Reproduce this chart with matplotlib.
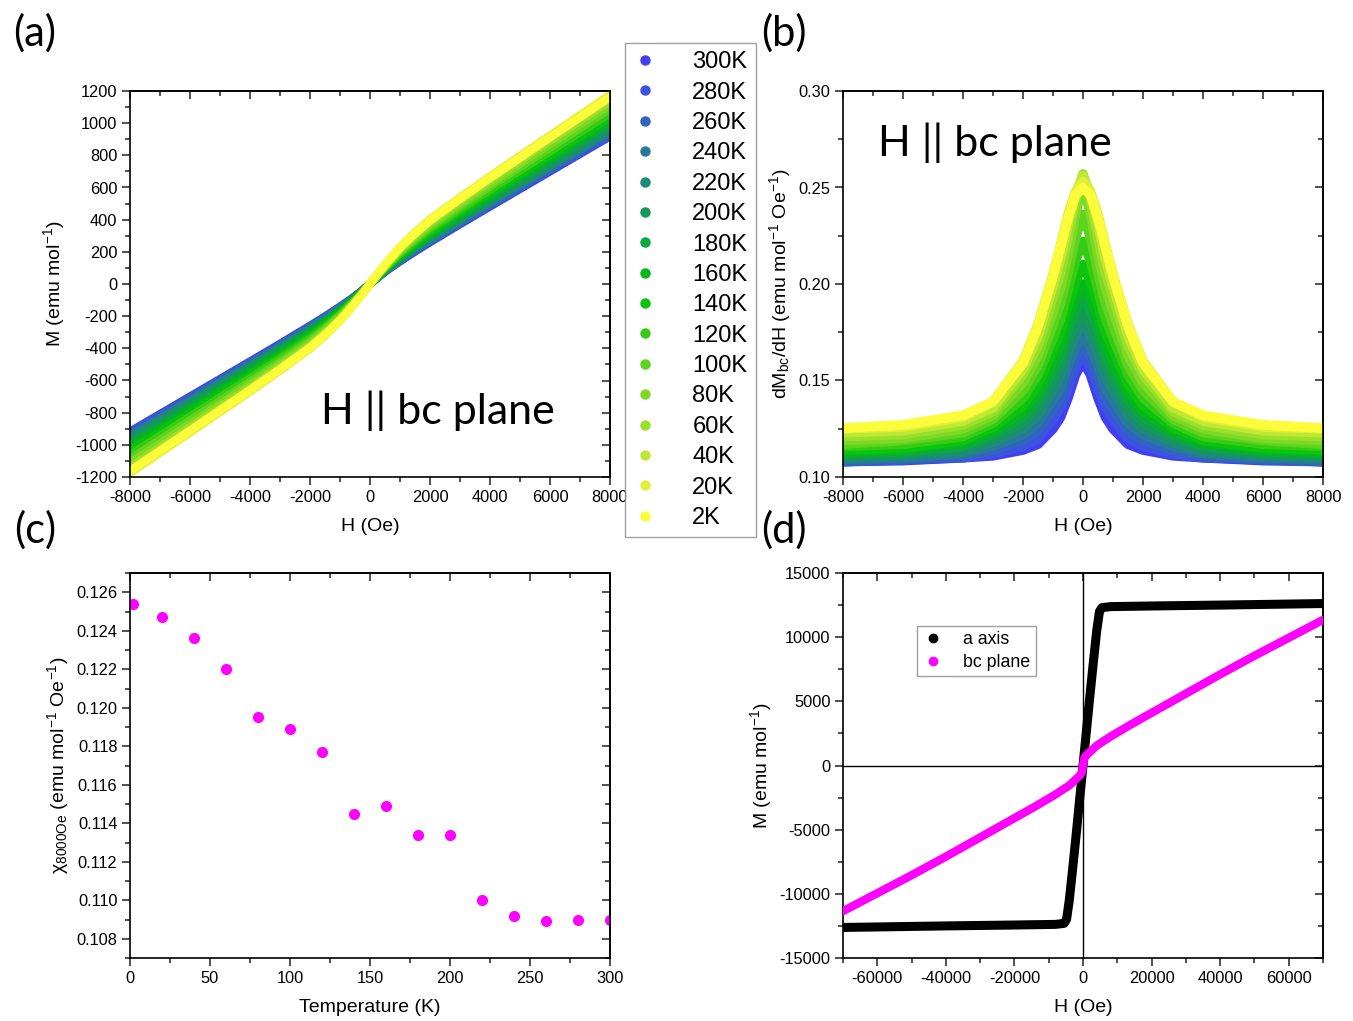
import numpy as np
import matplotlib
matplotlib.use("Agg")
import matplotlib.pyplot as plt
from matplotlib.ticker import MultipleLocator, NullFormatter
from matplotlib.lines import Line2D

plt.rcParams['font.family'] = ['Liberation Sans', 'DejaVu Sans']
plt.rcParams['mathtext.fontset'] = 'custom'
plt.rcParams['mathtext.rm'] = 'Liberation Sans'
plt.rcParams['mathtext.it'] = 'Liberation Sans:italic'
plt.rcParams['axes.linewidth'] = 1.2
plt.rcParams['axes.unicode_minus'] = False

# temperatures (K) and their colours, as in the legend
temps = [300, 280, 260, 240, 220, 200, 180, 160, 140, 120, 100, 80, 60, 40, 20, 2]
colors = ['#4040f0', '#3c52e0', '#2f64c0', '#27799c', '#1d8a7a', '#13995a',
          '#0aa83e', '#04b81c', '#0cc40c', '#36cc16', '#5cd41e', '#7ed826',
          '#9ae02a', '#bfe832', '#e0f03a', '#fcfc3a']

# (a) M(H) for H || bc, positive field side (curves are odd in H)
h_m = [0, 300, 600, 1000, 1500, 2000, 3000, 4000, 6000, 8000]
m_bc = [
    [0, 47, 90, 141, 202, 260, 372, 482, 700, 918],
    [0, 48, 92, 144, 205, 264, 377, 487, 706, 925],
    [0, 49, 94, 147, 210, 269, 383, 494, 715, 935],
    [0, 50, 96, 150, 214, 275, 389, 502, 723, 945],
    [0, 51, 99, 155, 221, 283, 399, 512, 736, 960],
    [0, 53, 103, 162, 230, 294, 412, 527, 753, 979],
    [0, 55, 107, 169, 239, 305, 424, 541, 770, 999],
    [0, 57, 111, 175, 248, 315, 437, 555, 787, 1019],
    [0, 59, 115, 182, 257, 326, 449, 569, 804, 1038],
    [0, 62, 120, 191, 269, 340, 465, 587, 825, 1063],
    [0, 65, 125, 200, 281, 355, 483, 607, 848, 1090],
    [0, 67, 130, 208, 292, 368, 498, 624, 870, 1114],
    [0, 70, 135, 217, 304, 382, 514, 642, 891, 1139],
    [0, 72, 139, 223, 313, 392, 527, 656, 908, 1158],
    [0, 73, 143, 229, 321, 402, 538, 669, 923, 1175],
    [0, 72, 140, 225, 315, 395, 530, 660, 912, 1163],
]

# (b) dM/dH, positive field side (curves are even in H)
h_dm = [0, 250, 500, 750, 1000, 1500, 2000, 3000, 4000, 6000, 8000]
dm_bc = [
    [0.160, 0.153, 0.141, 0.131, 0.125, 0.117, 0.114, 0.111, 0.110, 0.1085, 0.108],
    [0.164, 0.157, 0.146, 0.136, 0.130, 0.120, 0.116, 0.112, 0.110, 0.109, 0.108],
    [0.169, 0.162, 0.152, 0.141, 0.135, 0.124, 0.119, 0.114, 0.111, 0.109, 0.108],
    [0.174, 0.167, 0.158, 0.146, 0.140, 0.128, 0.122, 0.116, 0.112, 0.110, 0.109],
    [0.180, 0.173, 0.164, 0.152, 0.145, 0.132, 0.125, 0.118, 0.113, 0.111, 0.110],
    [0.186, 0.179, 0.170, 0.158, 0.150, 0.136, 0.128, 0.120, 0.115, 0.112, 0.111],
    [0.193, 0.186, 0.176, 0.163, 0.155, 0.140, 0.131, 0.122, 0.116, 0.113, 0.112],
    [0.200, 0.193, 0.182, 0.169, 0.160, 0.144, 0.134, 0.124, 0.118, 0.114, 0.113],
    [0.210, 0.201, 0.189, 0.175, 0.166, 0.148, 0.137, 0.126, 0.119, 0.115, 0.114],
    [0.222, 0.212, 0.197, 0.182, 0.172, 0.153, 0.141, 0.128, 0.121, 0.117, 0.116],
    [0.236, 0.224, 0.206, 0.190, 0.179, 0.158, 0.145, 0.130, 0.123, 0.119, 0.117],
    [0.252, 0.236, 0.215, 0.198, 0.186, 0.163, 0.149, 0.132, 0.125, 0.120, 0.119],
    [0.257, 0.243, 0.224, 0.206, 0.193, 0.168, 0.153, 0.134, 0.127, 0.122, 0.121],
    [0.256, 0.247, 0.231, 0.213, 0.199, 0.173, 0.156, 0.136, 0.129, 0.124, 0.123],
    [0.253, 0.248, 0.236, 0.220, 0.205, 0.179, 0.160, 0.139, 0.131, 0.126, 0.125],
    [0.250, 0.246, 0.234, 0.219, 0.204, 0.178, 0.159, 0.139, 0.132, 0.127, 0.1254],
]

# (c) susceptibility at 8000 Oe
t_chi = [2, 20, 40, 60, 80, 100, 120, 140, 160, 180, 200, 220, 240, 260, 280, 300]
chi_8000 = [0.1254, 0.1247, 0.1236, 0.1220, 0.1195, 0.1189, 0.1177, 0.1145,
            0.1149, 0.1134, 0.1134, 0.1100, 0.1092, 0.1089, 0.1090, 0.1090]

# (d) M(H) up to 7 T, positive side (odd in H)
h_a = [0, 1000, 2000, 3000, 4000, 4800, 5500, 8000, 20000, 40000, 70000]
m_a = [0, 2700, 5400, 8000, 10500, 12000, 12300, 12380, 12430, 12500, 12620]
h_bc = [0, 300, 800, 2000, 4000, 8000, 14000, 20000, 30000, 40000, 50000, 60000, 70000]
m_bc_full = [0, 500, 750, 1050, 1550, 2250, 3200, 4100, 5600, 7100, 8550, 9950, 11350]


def odd(h, m):
    h = np.asarray(h, float)
    m = np.asarray(m, float)
    return np.concatenate([-h[:0:-1], h]), np.concatenate([-m[:0:-1], m])


def even(h, m):
    h = np.asarray(h, float)
    m = np.asarray(m, float)
    return np.concatenate([-h[:0:-1], h]), np.concatenate([m[:0:-1], m])


def style(ax, xmaj, xmin, ymaj, ymin):
    ax.xaxis.set_major_locator(MultipleLocator(xmaj))
    ax.xaxis.set_minor_locator(MultipleLocator(xmin))
    ax.yaxis.set_major_locator(MultipleLocator(ymaj))
    ax.yaxis.set_minor_locator(MultipleLocator(ymin))
    ax.tick_params(which='both', direction='out', labelsize=11.8, width=1.1, color='#222222')
    ax.tick_params(which='major', length=5.5)
    ax.tick_params(which='minor', length=3.5)
    # top/right ticks point inwards (Origin style)
    top = ax.secondary_xaxis('top')
    right = ax.secondary_yaxis('right')
    for sec, axis in ((top, top.xaxis), (right, right.yaxis)):
        axis.set_major_locator(MultipleLocator(xmaj if sec is top else ymaj))
        axis.set_minor_locator(MultipleLocator(xmin if sec is top else ymin))
        axis.set_major_formatter(NullFormatter())
        sec.tick_params(which='both', direction='in', width=1.1, color='#222222')
        sec.tick_params(which='major', length=5.5)
        sec.tick_params(which='minor', length=3.5)


W, H = 1353, 1021
fig = plt.figure(figsize=(W / 100, H / 100), dpi=100)

ax_a = fig.add_axes([130 / W, 1 - 477 / H, 480 / W, 386 / H])
ax_b = fig.add_axes([843 / W, 1 - 477 / H, 480 / W, 386 / H])
ax_c = fig.add_axes([130 / W, 1 - 958 / H, 480 / W, 385 / H])
ax_d = fig.add_axes([843 / W, 1 - 958 / H, 480 / W, 385 / H])

# (a)
for m, c in zip(m_bc, colors):
    x, y = odd(h_m, m)
    ax_a.plot(x, y, color=c, lw=6, solid_capstyle='round', solid_joinstyle='round')
ax_a.set_xlim(-8000, 8000)
ax_a.set_ylim(-1200, 1200)
style(ax_a, 2000, 1000, 200, 100)
ax_a.set_xlabel('H (Oe)', fontsize=14, labelpad=10)
ax_a.set_ylabel('M (emu mol$^{-1}$)', fontsize=14, labelpad=6)
ax_a.text(0.642, 0.171, 'H || bc plane', transform=ax_a.transAxes, fontsize=31,
          family='Lato', ha='center', va='center')

# (b)
for d, c in zip(dm_bc, colors):
    x, y = even(h_dm, d)
    ax_b.plot(x, y, color=c, lw=7, solid_capstyle='round', solid_joinstyle='round')
ax_b.set_xlim(-8000, 8000)
ax_b.set_ylim(0.10, 0.30)
style(ax_b, 2000, 1000, 0.05, 0.025)
ax_b.set_xlabel('H (Oe)', fontsize=14, labelpad=10)
ax_b.set_ylabel(r'dM$_{\mathrm{bc}}$/dH (emu mol$^{-1}$ Oe$^{-1}$)', fontsize=14)
ax_b.text(0.317, 0.865, 'H || bc plane', transform=ax_b.transAxes, fontsize=31,
          family='Lato', ha='center', va='center')

# (c)
ax_c.plot(t_chi, chi_8000, 'o', color='#ff00ff', ms=7)
ax_c.set_xlim(0, 300)
ax_c.set_ylim(0.107, 0.127)
style(ax_c, 50, 25, 0.002, 0.001)
ax_c.yaxis.set_major_formatter(plt.FormatStrFormatter('%.3f'))
ax_c.set_xlabel('Temperature (K)', fontsize=14, labelpad=10)
ax_c.set_ylabel(r'χ$_{\mathrm{8000Oe}}$ (emu mol$^{-1}$ Oe$^{-1}$)', fontsize=14)

# (d)
ax_d.axhline(0, color='k', lw=1, zorder=1)
ax_d.axvline(0, color='k', lw=1, zorder=1)
x, y = odd(h_a, m_a)
ax_d.plot(x, y, color='k', lw=6.5, solid_capstyle='round', zorder=2)
x, y = odd(h_bc, m_bc_full)
ax_d.plot(x, y, color='#ff00ff', lw=6, solid_capstyle='round', zorder=3)
ax_d.set_xlim(-70000, 70000)
ax_d.set_ylim(-15000, 15000)
style(ax_d, 20000, 10000, 5000, 2500)
ax_d.set_xlabel('H (Oe)', fontsize=14, labelpad=10)
ax_d.set_ylabel('M (emu mol$^{-1}$)', fontsize=14)
hd = [Line2D([], [], ls='', marker='o', color='k', ms=6),
      Line2D([], [], ls='', marker='o', color='#ff00ff', ms=6)]
leg_d = ax_d.legend(hd, ['a axis', 'bc plane'], loc='upper left',
                    bbox_to_anchor=(0.154, 0.862), fontsize=12.8, frameon=True,
                    fancybox=False, edgecolor='#888888', borderpad=0.3,
                    handlelength=1.2, handletextpad=1.1, labelspacing=0.3,
                    borderaxespad=0)
leg_d.get_frame().set_linewidth(1.0)

# legend shared by (a) and (b)
handles = [Line2D([], [], ls='', marker='o', color=c, ms=6.5) for c in colors]
labels = ['%dK' % t for t in temps]
leg = fig.legend(handles, labels, loc='upper left',
                 bbox_to_anchor=(625 / W, 1 - 43 / H), fontsize=17,
                 fancybox=False, edgecolor='#888888', borderpad=0.35,
                 handlelength=1.0, handletextpad=1.5, labelspacing=0.355,
                 borderaxespad=0)
leg.get_frame().set_linewidth(1.0)

# panel letters
for lab, (px, py) in zip(['(a)', '(b)', '(c)', '(d)'],
                         [(35, 33), (784, 33), (35, 530), (784, 530)]):
    fig.text(px / W, 1 - py / H, lab, fontsize=30, family='Lato',
             ha='center', va='center')

fig.savefig('out.png', dpi=100)
